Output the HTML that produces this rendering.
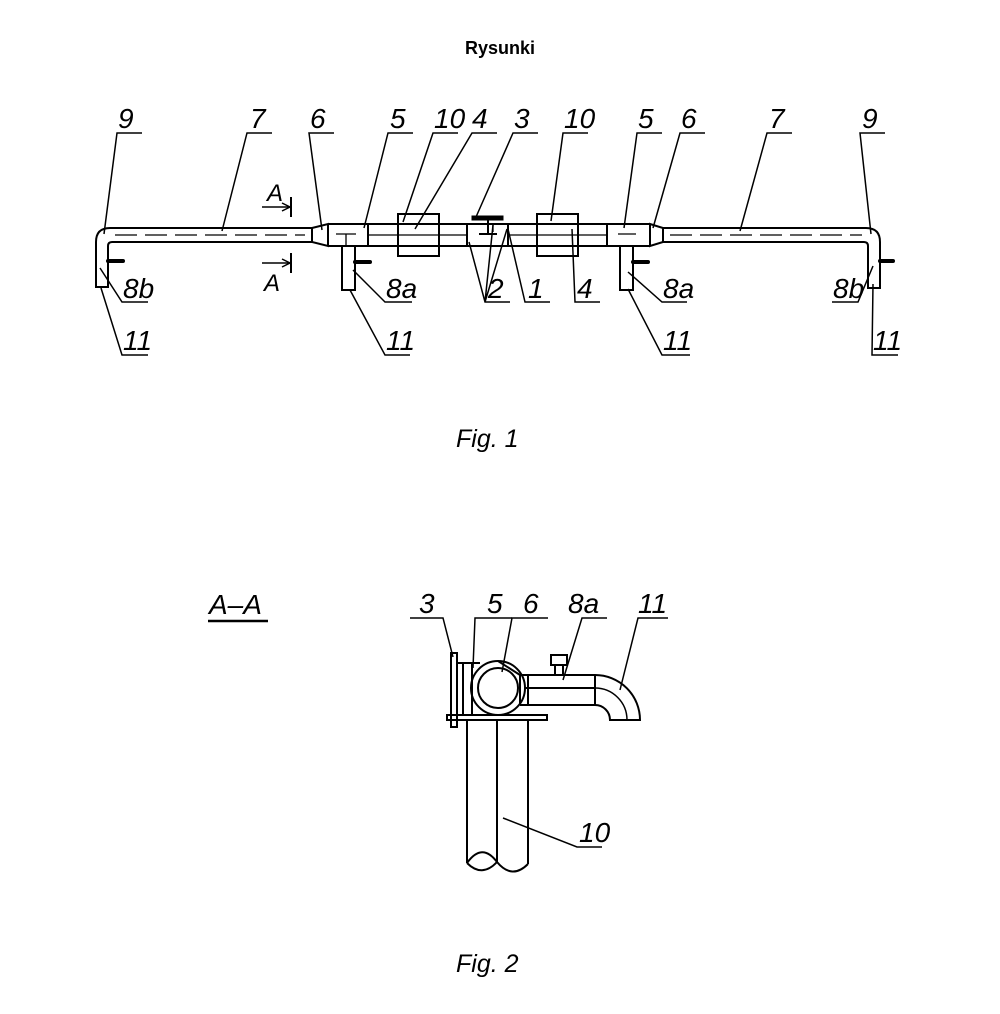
<!DOCTYPE html>
<html><head><style>
html,body{margin:0;padding:0;background:#fff;}
svg{display:block;}
.t{font-family:"Liberation Sans",sans-serif;font-style:italic;font-size:28px;fill:#000;}
</style></head><body>
<svg width="1000" height="1014" viewBox="0 0 1000 1014" xmlns="http://www.w3.org/2000/svg">
<text x="500" y="54" text-anchor="middle" font-family="Liberation Sans,sans-serif" font-weight="bold" font-size="18">Rysunki</text>
<g fill="none" stroke="#000" stroke-width="2">
<path d="M312,228 L110,228 Q96,228 96,242 L96,287 L108,287 L108,246 Q108,242 112,242 L312,242"/>
<line x1="115" y1="235" x2="305" y2="235" stroke-dasharray="22,8" stroke-width="1.3"/>
<line x1="108" y1="261" x2="123" y2="261" stroke-width="4" stroke-linecap="round"/>
<path d="M312,228 L328,224 L328,246 L312,242 Z"/>
<line x1="328" y1="224" x2="650" y2="224"/>
<line x1="328" y1="246" x2="650" y2="246"/>
<line x1="368" y1="235" x2="467" y2="235" stroke-width="1.3"/>
<line x1="508" y1="235" x2="607" y2="235" stroke-width="1.3"/>
<line x1="368" y1="224" x2="368" y2="246"/>
<line x1="607" y1="224" x2="607" y2="246"/>
<line x1="467" y1="224" x2="467" y2="246"/>
<line x1="508" y1="224" x2="508" y2="246"/>
<line x1="336" y1="234" x2="356" y2="234" stroke-width="1.3"/><line x1="346" y1="234" x2="346" y2="246" stroke-width="1.3"/>
<line x1="618" y1="234" x2="636" y2="234" stroke-width="1.3"/>
<path d="M342,246 L342,290 L355,290 L355,246"/>
<line x1="355" y1="262" x2="370" y2="262" stroke-width="4" stroke-linecap="round"/>
<path d="M620,246 L620,290 L633,290 L633,246"/>
<line x1="633" y1="262" x2="648" y2="262" stroke-width="4" stroke-linecap="round"/>
<rect x="398" y="214" width="41" height="42" fill="#fff"/>
<line x1="398" y1="224" x2="439" y2="224"/><line x1="398" y1="246" x2="439" y2="246"/><line x1="398" y1="235" x2="439" y2="235" stroke-width="1.3"/>
<rect x="537" y="214" width="41" height="42" fill="#fff"/>
<line x1="537" y1="224" x2="578" y2="224"/><line x1="537" y1="246" x2="578" y2="246"/><line x1="537" y1="235" x2="578" y2="235" stroke-width="1.3"/>
<rect x="472" y="216" width="31" height="4" fill="#000" stroke-width="1"/>
<line x1="488" y1="220" x2="488" y2="234"/>
<line x1="479" y1="234" x2="497" y2="234"/>
<line x1="493" y1="224" x2="493" y2="232" stroke-width="1.3"/>
<path d="M650,224 L663,228 L663,242 L650,246 Z"/>
<path d="M663,228 L866,228 Q880,228 880,242 L880,288 L868,288 L868,246 Q868,242 864,242 L663,242"/>
<line x1="670" y1="235" x2="862" y2="235" stroke-dasharray="22,8" stroke-width="1.3"/>
<line x1="880" y1="261" x2="893" y2="261" stroke-width="4" stroke-linecap="round"/>
<line x1="262" y1="207" x2="290" y2="207" stroke-width="1.5"/><path d="M282,203 L290,207 L282,211" stroke-width="1.5"/><line x1="291" y1="197" x2="291" y2="217"/>
<line x1="262" y1="263" x2="290" y2="263" stroke-width="1.5"/><path d="M282,259 L290,263 L282,267" stroke-width="1.5"/><line x1="291" y1="253" x2="291" y2="273"/>
</g>
<g fill="none" stroke="#000" stroke-width="1.5">
<path d="M142,133 L117,133 L104,234"/>
<path d="M272,133 L247,133 L222,231"/>
<path d="M334,133 L309,133 L322,230"/>
<path d="M413,133 L388,133 L364,228"/>
<path d="M458,133 L433,133 L403,222"/>
<path d="M497,133 L472,133 L415,229"/>
<path d="M538,133 L513,133 L476,217"/>
<path d="M588,133 L563,133 L551,221"/>
<path d="M662,133 L637,133 L624,228"/>
<path d="M705,133 L680,133 L653,228"/>
<path d="M792,133 L767,133 L740,231"/>
<path d="M885,133 L860,133 L871,234"/>
<path d="M510,302 L485,302 L469,242 M485,302 L493,225 M485,302 L507,229"/>
<path d="M550,302 L525,302 L508,229"/>
<path d="M600,302 L575,302 L572,229"/>
<path d="M687,302 L662,302 L628,272"/>
<path d="M690,355 L662,355 L628,289"/>
<path d="M832,302 L858,302 L873,266"/>
<path d="M898,355 L872,355 L873,284"/>
<path d="M148,302 L122,302 L100,268"/>
<path d="M148,355 L122,355 L101,288"/>
<path d="M412,302 L385,302 L353,270"/>
<path d="M410,355 L385,355 L350,290"/>
</g>
<g class="t">
<text x="118" y="128">9</text><text x="250" y="128">7</text><text x="310" y="128">6</text><text x="390" y="128">5</text>
<text x="434" y="128">10</text><text x="472" y="128">4</text><text x="514" y="128">3</text><text x="564" y="128">10</text>
<text x="638" y="128">5</text><text x="681" y="128">6</text><text x="769" y="128">7</text><text x="862" y="128">9</text>
<text x="488" y="298">2</text><text x="528" y="298">1</text><text x="577" y="298">4</text>
<text x="663" y="298">8a</text><text x="833" y="298">8b</text><text x="123" y="298">8b</text><text x="386" y="298">8a</text>
<text x="123" y="350">11</text><text x="386" y="350">11</text><text x="663" y="350">11</text><text x="873" y="350">11</text>
<text x="267" y="201" font-size="24">A</text><text x="264" y="291" font-size="24">A</text>
<text x="456" y="447" font-size="25">Fig.  1</text>
<text x="209" y="614" font-size="28">A–A</text>
<text x="419" y="613">3</text><text x="487" y="613">5</text><text x="523" y="613">6</text><text x="568" y="613">8a</text><text x="638" y="613">11</text>
<text x="579" y="842">10</text>
<text x="456" y="972" font-size="25">Fig.  2</text>
</g>
<g fill="none" stroke="#000" stroke-width="2">
<line x1="208" y1="621" x2="268" y2="621" stroke-width="2.5"/>
<rect x="451" y="653" width="6" height="74"/>
<line x1="463" y1="663" x2="463" y2="715"/>
<line x1="472" y1="663" x2="472" y2="715"/>
<line x1="457" y1="663" x2="480" y2="663"/>
<rect x="447" y="715" width="100" height="5"/>
<circle cx="498" cy="688" r="27"/>
<circle cx="498" cy="688" r="20"/>
<line x1="498" y1="661" x2="520" y2="675"/>
<path d="M520,675 L595,675 A45,45 0 0 1 640,720 L610,720 A15,15 0 0 0 595,705 L520,705"/>
<line x1="520" y1="675" x2="520" y2="705"/>
<line x1="528" y1="675" x2="528" y2="705"/>
<line x1="525" y1="688" x2="595" y2="688"/>
<path d="M595,688 A32,32 0 0 1 627,720" stroke-width="1.5"/>
<line x1="595" y1="675" x2="595" y2="705"/>
<rect x="551" y="655" width="16" height="10"/>
<line x1="555" y1="665" x2="555" y2="675"/><line x1="563" y1="665" x2="563" y2="675"/>
<line x1="467" y1="720" x2="467" y2="863"/>
<line x1="497" y1="720" x2="497" y2="862"/>
<line x1="528" y1="720" x2="528" y2="864"/>
<path d="M467,863 Q482,842 497,862 Q482,878 467,863 M497,862 Q512,880 528,864"/>
</g>
<g fill="none" stroke="#000" stroke-width="1.5">
<path d="M410,618 L443,618 L453,657"/>
<path d="M512,618 L475,618 L473,668"/>
<path d="M548,618 L512,618 L502,672"/>
<path d="M607,618 L582,618 L563,680"/>
<path d="M668,618 L638,618 L620,690"/>
<path d="M602,847 L577,847 L503,818"/>
</g>
</svg>
</body></html>
